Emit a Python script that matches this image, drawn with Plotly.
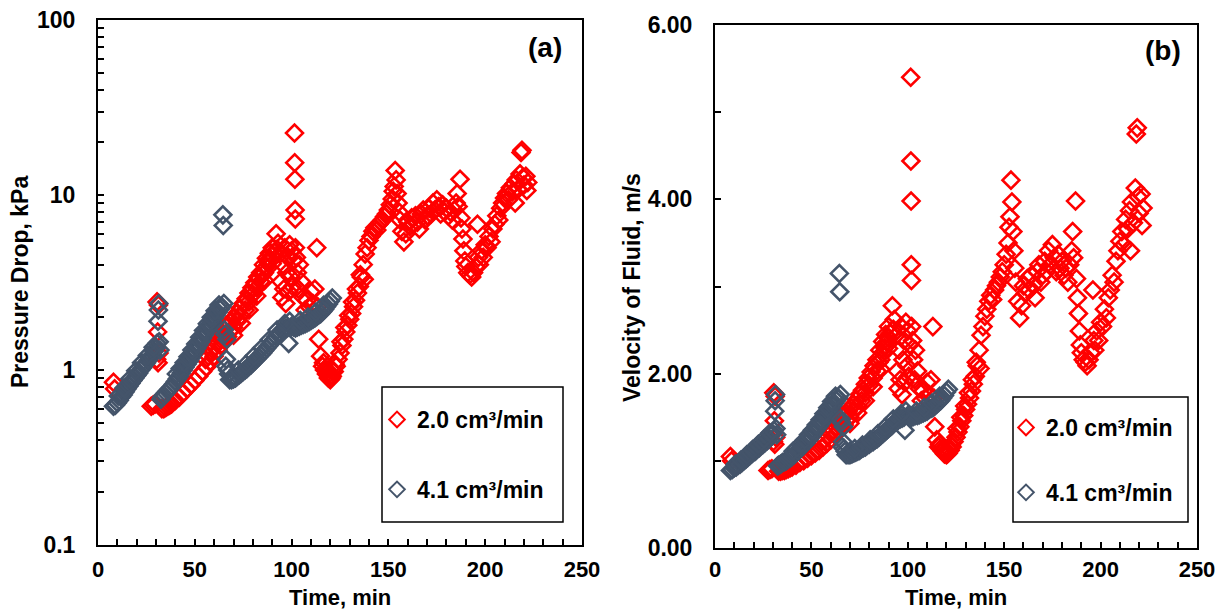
import plotly.graph_objects as go

# ---------------- data ----------------
series_names = ["2.0 cm³/min", "4.1 cm³/min"]

# 2.0 cm3/min run: time (min), pressure drop (kPa), fluid velocity (m/s)
t_red = [8.0, 8.6,
         27.5, 28.5, 29.5, 30.3, 30.5, 30.8, 31.0, 31.2, 31.5,
         33, 34, 35, 36, 37, 38, 39, 40, 42, 44, 46, 48, 50, 52, 54, 56, 58, 60, 62, 64,
         65, 66, 67, 68, 70, 72, 74, 76, 78, 80, 82, 84, 85, 86, 87, 88, 89, 90, 91,
         92, 92.5, 93, 94, 94.5, 95, 95.5, 96, 96.5, 97, 97.5, 98, 98.5, 99, 99.5, 100, 100.5, 101,
         101.5, 101.6, 101.7, 101.8, 101.9, 102, 102.5, 103, 103.5, 104,
         105, 106, 107, 108, 109, 110, 111, 112,
         113, 113.5, 114, 115, 116, 117, 118, 119, 120,
         121, 122, 123, 124, 125, 126, 127, 128, 129, 130, 131, 132, 133, 134, 135, 136, 137,
         137.5, 138, 139, 140, 141, 142, 143, 144, 145, 146, 147, 148, 149, 150, 151, 152,
         152.5, 153, 153.5, 154, 154.5, 155, 155.5, 156, 157, 158,
         159, 160, 161, 162, 163, 164, 165, 166, 167, 168, 169, 170, 171, 172, 173, 174, 175,
         176, 177, 178, 179, 180, 181, 182, 183, 184, 185,
         185.5, 186, 187, 187.5, 188, 188.5, 189, 189.5, 190,
         191, 192, 193, 194, 195, 196,
         196.5, 197, 198, 199, 200, 201, 202, 203, 204, 205, 206, 207, 208, 209, 210, 211, 212, 213, 214, 215,
         215.5, 216, 217, 218, 218.5, 219, 219.5, 220, 221, 221.5, 222,
         55.5, 57, 58.5, 60, 61.5, 63, 64.5, 66, 67.5, 69, 70.5, 72, 73.5, 75, 76.5, 78,
         79.5, 81, 82.5, 84, 85.5, 87, 88.5, 90,
         70, 74, 78, 82, 86, 90,
         116.5, 118.5, 119.5, 120.5, 121.5, 122.5,
         125.5, 127.5, 129.5, 131.5, 133.5, 135.5]
p_red = [0.85, 0.78,
         0.62, 0.63, 0.64, 1.15, 2.45, 1.65, 1.1, 2.35, 1.25,
         0.6, 0.6, 0.61, 0.62, 0.63, 0.64, 0.66, 0.67, 0.7, 0.74, 0.78, 0.82, 0.87, 0.92, 0.98, 1.04, 1.12, 1.2, 1.3, 1.4,
         1.5, 1.6, 1.55, 1.65, 1.75, 1.9, 2.05, 2.2, 2.45, 2.7, 2.95, 3.2, 3.5, 3.6, 3.9, 4.1, 4.3, 4.5, 4.7,
         6.0, 4.9, 5.3, 4.6, 3.2, 2.6, 4.0, 2.9, 5.0, 2.4, 3.6, 4.4, 2.8, 5.2, 3.4, 4.8, 3.0, 4.2,
         22.6, 15.3, 12.3, 8.2, 7.3, 5.0, 4.4, 3.6, 2.9, 4.0,
         3.2, 2.6, 2.2, 2.5, 2.3, 2.8, 2.4, 2.9,
         5.0, 2.3, 1.5, 1.2, 1.05, 1.0, 0.95, 0.9, 0.88,
         0.92, 0.98, 1.05, 1.15, 1.25, 1.38, 1.5, 1.65, 1.8, 1.95, 2.1, 2.3, 2.5, 2.75, 3.0, 3.4, 4.0,
         3.3, 4.6, 5.0, 5.5, 5.8, 6.2, 6.5, 6.3, 6.8, 7.0, 7.2, 7.5, 7.8, 8.2, 8.8, 9.5,
         10.5, 11.2, 13.8, 12.2, 10.2, 9.0, 8.0, 7.2, 6.2, 5.4,
         6.0, 7.0, 6.6, 7.4, 6.8, 7.6, 7.0, 6.4, 7.8, 8.2, 7.2, 7.6, 8.4, 7.8, 9.0, 8.2, 9.4,
         8.6, 7.8, 8.8, 8.0, 8.4, 7.6, 8.0, 7.2, 8.2, 9.0,
         10.2, 8.6, 12.3, 7.4, 6.4, 5.6, 4.8, 4.2, 3.9,
         3.6, 3.5, 3.4, 3.6, 3.9, 6.8,
         4.4, 4.0, 4.8, 4.4, 5.2, 5.0, 5.8, 5.4, 6.4, 6.8, 7.6, 7.2, 8.4, 9.0, 9.6, 10.2, 9.4, 11.0, 10.4, 11.6,
         9.0, 12.2, 10.8, 13.2, 17.5, 18.0, 12.6, 11.4, 12.8, 10.6, 11.8,
         1.15, 1.2, 1.28, 1.35, 1.42, 1.5, 1.62, 1.78, 1.8, 1.92, 2.0, 2.12, 2.25, 2.4, 2.55, 2.75,
         2.95, 3.15, 3.4, 3.6, 4.0, 4.35, 4.65, 5.0,
         1.58, 1.85, 2.2, 2.65, 3.25, 4.05,
         1.1, 1.0, 0.95, 0.9, 0.98, 1.08,
         1.45, 1.75, 2.05, 2.45, 2.9, 3.5]
v_red = [1.05, 1.00,
         0.89, 0.90, 0.91, 1.22, 1.78, 1.46, 1.19, 1.74, 1.27,
         0.88, 0.88, 0.89, 0.89, 0.90, 0.91, 0.92, 0.93, 0.95, 0.98, 1.00, 1.03, 1.06, 1.09, 1.12, 1.16, 1.20, 1.24, 1.30, 1.34,
         1.39, 1.44, 1.41, 1.46, 1.50, 1.57, 1.63, 1.69, 1.78, 1.87, 1.95, 2.03, 2.13, 2.16, 2.24, 2.30, 2.36, 2.41, 2.46,
         2.78, 2.51, 2.62, 2.44, 2.03, 1.83, 2.27, 1.93, 2.54, 1.76, 2.16, 2.38, 1.90, 2.59, 2.09, 2.49, 1.97, 2.33,
         5.40, 4.44, 3.98, 3.25, 3.07, 2.54, 2.38, 2.16, 1.93, 2.27,
         2.03, 1.83, 1.69, 1.80, 1.72, 1.90, 1.76, 1.93,
         2.54, 1.72, 1.39, 1.24, 1.16, 1.14, 1.11, 1.08, 1.07,
         1.09, 1.12, 1.16, 1.22, 1.27, 1.33, 1.39, 1.46, 1.52, 1.59, 1.65, 1.72, 1.80, 1.88, 1.97, 2.09, 2.27,
         2.06, 2.44, 2.54, 2.66, 2.74, 2.83, 2.90, 2.85, 2.96, 3.01, 3.05, 3.11, 3.17, 3.25, 3.37, 3.50,
         3.68, 3.80, 4.22, 3.97, 3.63, 3.41, 3.21, 3.05, 2.83, 2.64,
         2.78, 3.01, 2.92, 3.09, 2.96, 3.13, 3.01, 2.87, 3.17, 3.25, 3.05, 3.13, 3.29, 3.17, 3.41, 3.25, 3.48,
         3.33, 3.17, 3.37, 3.21, 3.29, 3.13, 3.21, 3.05, 3.25, 3.41,
         3.63, 3.33, 3.98, 3.09, 2.87, 2.69, 2.49, 2.33, 2.24,
         2.16, 2.13, 2.09, 2.16, 2.24, 2.96,
         2.38, 2.27, 2.49, 2.38, 2.59, 2.54, 2.74, 2.64, 2.87, 2.96, 3.13, 3.05, 3.29, 3.41, 3.52, 3.63, 3.48, 3.77, 3.66, 3.87,
         3.41, 3.97, 3.73, 4.13, 4.75, 4.82, 4.03, 3.84, 4.06, 3.70, 3.90,
         1.22, 1.24, 1.29, 1.32, 1.35, 1.39, 1.45, 1.52, 1.52, 1.57, 1.61, 1.65, 1.70, 1.76, 1.81, 1.88,
         1.95, 2.02, 2.09, 2.16, 2.27, 2.37, 2.45, 2.54,
         1.43, 1.55, 1.69, 1.85, 2.05, 2.29,
         1.19, 1.14, 1.11, 1.08, 1.12, 1.18,
         1.37, 1.50, 1.63, 1.78, 1.93, 2.13]

# 4.1 cm3/min run
t_blue = [8, 9, 10, 11, 12, 13, 14, 15, 16, 17, 18, 19, 20, 21, 22, 23, 24, 25, 26, 27, 28, 29, 30,
          30.5, 31, 31.2, 31.4, 31.6, 32,
          32.5, 33, 34, 35, 36, 37, 38, 39, 40, 41, 42, 43, 44, 45, 46, 47, 48,
          49, 50, 51, 52, 53, 54, 55, 56, 57, 58, 59, 60, 61, 62, 63, 64,
          64.5, 64.7, 65, 65.3, 65.6, 66, 66.3, 66.6, 67, 67.5,
          68, 69, 70, 71, 72, 73, 74, 75, 76, 77, 78, 79, 80, 81, 82, 83,
          84, 85, 86, 87, 88, 89, 90, 91, 92, 93, 94, 95, 96, 97, 98,
          98.5, 99,
          100, 101, 102, 103, 104, 105, 106, 107, 108, 109, 110,
          111, 112, 113, 114, 115, 116, 117, 118, 119, 120, 121,
          10.5, 13.5, 16.5, 19.5, 22.5, 25.5, 28.5,
          40.5, 42.5, 44.5, 46.5, 48.5, 50.5, 52.5, 54.5, 56.5, 58.5, 60.5, 62.5,
          72.5, 76.5, 80.5, 84.5, 88.5, 92.5, 96.5, 104.5, 108.5, 112.5, 116.5]
p_blue = [0.62, 0.63, 0.65, 0.67, 0.7, 0.72, 0.75, 0.78, 0.81, 0.84, 0.87, 0.9, 0.93, 0.96, 1.0, 1.03, 1.07, 1.1, 1.14, 1.18, 1.22, 1.28, 1.34,
          1.42, 1.9, 2.2, 2.4, 1.45, 1.3,
          0.68, 0.7, 0.72, 0.74, 0.76, 0.78, 0.8, 0.83, 0.86, 0.89, 0.92, 0.96, 1.0, 1.04, 1.08, 1.12, 1.17,
          1.22, 1.27, 1.33, 1.39, 1.45, 1.52, 1.59, 1.66, 1.74, 1.82, 1.9, 1.98, 2.06, 2.14, 2.22, 2.3,
          7.7, 6.7, 2.4, 1.7, 1.6, 1.05, 1.15, 1.5, 1.0, 0.95,
          0.88, 0.88, 0.89, 0.9, 0.92, 0.94, 0.96, 0.98, 1.0, 1.02, 1.05, 1.07, 1.1, 1.13, 1.16, 1.19,
          1.22, 1.25, 1.29, 1.33, 1.37, 1.41, 1.45, 1.5, 1.55, 1.6, 1.64, 1.68, 1.7, 1.73, 1.75,
          1.42, 1.9,
          1.78, 1.76, 1.74, 1.76, 1.78, 1.8, 1.82, 1.84, 1.86, 1.89, 1.92,
          1.95, 1.98, 2.02, 2.06, 2.1, 2.16, 2.22, 2.3, 2.38, 2.48, 2.58,
          0.71, 0.79, 0.89, 0.99, 1.1, 1.21, 1.35,
          0.95, 1.02, 1.1, 1.19, 1.3, 1.41, 1.54, 1.68, 1.84, 2.0, 2.18, 2.35,
          1.0, 1.08, 1.2, 1.33, 1.49, 1.69, 1.84, 1.92, 2.01, 2.14, 2.34]
v_blue = [0.89, 0.90, 0.92, 0.93, 0.95, 0.96, 0.98, 1.00, 1.02, 1.04, 1.06, 1.08, 1.10, 1.11, 1.14, 1.15, 1.18, 1.19, 1.21, 1.23, 1.25, 1.29, 1.31,
          1.35, 1.57, 1.69, 1.76, 1.37, 1.30,
          0.94, 0.95, 0.96, 0.98, 0.99, 1.00, 1.02, 1.03, 1.05, 1.07, 1.09, 1.11, 1.14, 1.16, 1.18, 1.20, 1.23,
          1.25, 1.28, 1.31, 1.34, 1.37, 1.40, 1.43, 1.46, 1.50, 1.53, 1.57, 1.60, 1.63, 1.66, 1.69, 1.72,
          3.15, 2.94, 1.76, 1.48, 1.44, 1.16, 1.22, 1.39, 1.14, 1.11,
          1.07, 1.07, 1.07, 1.08, 1.09, 1.10, 1.11, 1.12, 1.14, 1.15, 1.16, 1.18, 1.19, 1.21, 1.22, 1.24,
          1.25, 1.27, 1.29, 1.31, 1.33, 1.35, 1.37, 1.39, 1.41, 1.44, 1.45, 1.47, 1.48, 1.49, 1.50,
          1.35, 1.57,
          1.52, 1.51, 1.50, 1.51, 1.52, 1.52, 1.53, 1.54, 1.55, 1.56, 1.57,
          1.59, 1.60, 1.61, 1.63, 1.65, 1.67, 1.69, 1.72, 1.75, 1.79, 1.82,
          0.96, 1.01, 1.07, 1.13, 1.19, 1.25, 1.32,
          1.11, 1.15, 1.19, 1.24, 1.30, 1.35, 1.41, 1.47, 1.54, 1.61, 1.68, 1.74,
          1.14, 1.18, 1.24, 1.31, 1.39, 1.48, 1.54, 1.57, 1.61, 1.66, 1.74]

x_tick_vals = [0, 50, 100, 150, 200, 250]
p_tick_vals = [0.1, 1, 10, 100]
p_tick_text = ["0.1", "1", "10", "100"]
v_tick_vals = [0, 2, 4, 6]
v_tick_text = ["0.00", "2.00", "4.00", "6.00"]
panel_labels = ["(a)", "(b)"]
x_title = "Time, min"
y_titles = ["Pressure Drop, kPa", "Velocity of Fluid, m/s"]

# ---------------- styling / layout ----------------
WIN_W, WIN_H = 1225, 610
OFF = 8                      # default page margin of the html body
W, H = WIN_W - OFF, WIN_H - OFF
RED = "#FF0000"
BLUE = "#44546A"
FONT = "Liberation Sans, Arial, Helvetica, sans-serif"
FS = 23
FSX = 22


def px(x):
    """window pixel x -> paper fraction"""
    return (x - OFF) / W


def py(y):
    """window pixel y -> paper fraction"""
    return 1 - (y - OFF) / H


fig = go.Figure()


def add(x, y, name, color, xa, ya, leg, grp):
    fig.add_trace(go.Scatter(
        x=x, y=y, mode="markers", name=name, legend=leg, legendgroup=grp,
        marker=dict(symbol="diamond-open", size=13, color=color,
                    line=dict(width=2.6, color=color)),
        xaxis=xa, yaxis=ya, hoverinfo="x+y+name"))


add(t_red, p_red, series_names[0], RED, "x", "y", "legend", "r1")
add(t_blue, p_blue, series_names[1], BLUE, "x", "y", "legend", "b1")
add(t_red, v_red, series_names[0], RED, "x2", "y2", "legend2", "r2")
add(t_blue, v_blue, series_names[1], BLUE, "x2", "y2", "legend2", "b2")

minor_log = [m * 10 ** e for e in (-1, 0, 1) for m in range(2, 10)]

axis_common = dict(
    showline=True, linecolor="black", linewidth=2, mirror=True,
    showgrid=False, zeroline=False, automargin=False, ticklabeloverflow="allow",
    ticks="inside", ticklen=6, tickwidth=1.5, tickcolor="black",
    tickfont=dict(size=FS, color="black", family=FONT, weight="bold"),
)

xaxis_common = dict(axis_common, range=[0, 250], tickmode="array", tickvals=x_tick_vals,
                    tickfont=dict(size=FSX, color="black", family=FONT, weight="bold"),
                    minor=dict(ticks="inside", dtick=10, ticklen=6, tickwidth=1.5,
                               tickcolor="black", showgrid=False))

legend_common = dict(xanchor="left", yanchor="top", bgcolor="rgba(0,0,0,0)", borderwidth=0,
                     itemsizing="constant", traceorder="grouped",
                     font=dict(size=FS, color="black", family=FONT, weight="bold"))

fig.update_layout(
    template="none",
    width=W, height=H,
    margin=dict(l=0, r=0, t=0, b=0, autoexpand=False),
    paper_bgcolor="white", plot_bgcolor="white",
    font=dict(family=FONT, size=FS, color="black", weight="bold"),
    xaxis=dict(xaxis_common, domain=[px(98), px(582)], anchor="y", ticklabelstandoff=4),
    yaxis=dict(axis_common, domain=[py(545), py(20)], anchor="x", type="log",
               range=[-1.0002, 2.0002], tickmode="array", tickvals=p_tick_vals, ticktext=p_tick_text,
               ticklabelstandoff=16,
               minor=dict(ticks="inside", tickmode="array", tickvals=minor_log, ticklen=6,
                          tickwidth=1.5, tickcolor="black", showgrid=False)),
    xaxis2=dict(xaxis_common, domain=[px(715), px(1197)], anchor="y2", ticklabelstandoff=1),
    yaxis2=dict(axis_common, domain=[py(548), py(25)], anchor="x2",
                range=[0, 6], tickmode="array", tickvals=v_tick_vals, ticktext=v_tick_text,
                ticklabelstandoff=16,
                minor=dict(ticks="inside", dtick=1, ticklen=6, tickwidth=1.5,
                           tickcolor="black", showgrid=False)),
    legend=dict(legend_common, x=px(377), y=py(398), tracegroupgap=37),
    legend2=dict(legend_common, x=px(1006), y=py(406), tracegroupgap=32),
    showlegend=True,
)

# legend frames
for (x0, y0, x1, y1) in [(382, 387, 563, 522), (1013, 397, 1188, 522)]:
    fig.add_shape(type="rect", xref="paper", yref="paper",
                  x0=px(x0), x1=px(x1), y0=py(y1), y1=py(y0),
                  line=dict(color="black", width=1.5), fillcolor="rgba(0,0,0,0)")

ann_font = dict(family=FONT, size=FS, color="black", weight="bold")
title_font = dict(ann_font, size=FSX)
# axis titles
fig.add_annotation(text=x_title, x=px(340), y=py(597), xref="paper", yref="paper",
                   showarrow=False, xanchor="center", yanchor="middle", font=title_font)
fig.add_annotation(text=x_title, x=px(956), y=py(597), xref="paper", yref="paper",
                   showarrow=False, xanchor="center", yanchor="middle", font=title_font)
fig.add_annotation(text=y_titles[0], x=px(20), y=py(282), xref="paper", yref="paper",
                   showarrow=False, textangle=-90, xanchor="center", yanchor="middle", font=ann_font)
fig.add_annotation(text=y_titles[1], x=px(632), y=py(288), xref="paper", yref="paper",
                   showarrow=False, textangle=-90, xanchor="center", yanchor="middle", font=ann_font)
# panel labels
fig.add_annotation(text=panel_labels[0], x=px(545), y=py(47), xref="paper", yref="paper",
                   showarrow=False, xanchor="center", yanchor="middle",
                   font=dict(ann_font, size=28))
fig.add_annotation(text=panel_labels[1], x=px(1163), y=py(51), xref="paper", yref="paper",
                   showarrow=False, xanchor="center", yanchor="middle",
                   font=dict(ann_font, size=28))

fig.write_html("out.html")
